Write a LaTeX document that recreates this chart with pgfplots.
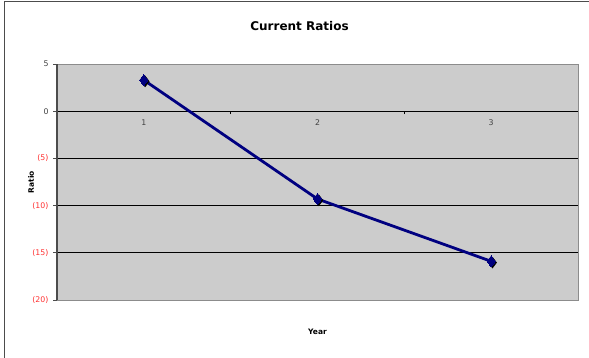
\documentclass[border=0pt]{standalone}
\usepackage{pgfplots}
\pgfplotsset{compat=1.18}
\usepackage{fontspec}
\setmainfont{DejaVu Sans}
\definecolor{navy}{RGB}{0,0,128}
\definecolor{plotgray}{RGB}{204,204,204}
\definecolor{negred}{RGB}{255,50,50}
\begin{document}
\begin{tikzpicture}
\useasboundingbox (0pt,0pt) rectangle (589pt,357pt);
% chart frame
\draw[black!70, line width=1pt] (4.5pt,-5pt) -- (4.5pt,355.5pt) -- (595pt,355.5pt);
\begin{axis}[
  at={(57pt,57pt)}, anchor=south west,
  scale only axis, width=521pt, height=236pt,
  xmin=0.5, xmax=3.5, ymin=-20, ymax=5,
  /pgf/number format/assume math mode=true,
  axis y line*=left, axis x line*=middle,
  axis line style={black, line width=0.8pt, -},
  axis background/.style={fill=plotgray},
  xtick={1,2,3},
  minor xtick={1.5,2.5},
  every major x tick/.style={draw=none},
  every minor x tick/.style={black, line width=0.8pt},
  minor tick length=3pt,
  ytick={-20,-15,-10,-5,0,5},
  yticklabels={\textnormal{\color{negred}(20)},\textnormal{\color{negred}(15)},\textnormal{\color{negred}(10)},\textnormal{\color{negred}(5)},\textnormal{0},\textnormal{5}},
  tick align=outside,
  major tick length=4pt,
  every major y tick/.style={black!70, line width=1pt},
  ymajorgrids,
  grid style={black, line width=0.8pt},
  tick label style={font=\fontsize{7.8}{9}\selectfont, text=black!75},
  yticklabel style={xshift=-1pt},
  xticklabel style={yshift=-1pt},
  title={Current Ratios},
  title style={font=\fontsize{12}{14}\selectfont\bfseries, at={(axis description cs:0.5,1)}, anchor=center, yshift=32pt, xshift=-18pt},
  xlabel={Year},
  xlabel style={font=\fontsize{7.5}{9}\selectfont\bfseries, at={(axis description cs:0.5,0)}, anchor=center, yshift=-32pt},
  ylabel={Ratio},
  ylabel style={font=\fontsize{7.5}{9}\selectfont\bfseries, at={(axis description cs:0,0.5)}, anchor=center, rotate=0, yshift=26pt},
  clip=false,
]
% gray border of the plot area over the outer grid lines
\draw[black!45, line width=0.8pt] (rel axis cs:0,1) -- (rel axis cs:1,1) -- (rel axis cs:1,0) -- (rel axis cs:0,0);
\draw[black!70, line width=1.4pt] (rel axis cs:0,0) -- (rel axis cs:0,1);
% marker shadows
\addplot[only marks, mark=diamond*, mark size=5.5pt,
  mark options={fill=black, draw=black, xshift=1.3pt, yshift=-1.3pt}]
  coordinates {(1,3.3) (2,-9.3) (3,-15.9)};
\addplot[navy, line width=2.8pt, mark=diamond*, mark size=5.5pt,
  mark options={fill=navy, draw=navy, line width=0pt}]
  coordinates {(1,3.3) (2,-9.3) (3,-15.9)};
\end{axis}
\end{tikzpicture}
\end{document}
